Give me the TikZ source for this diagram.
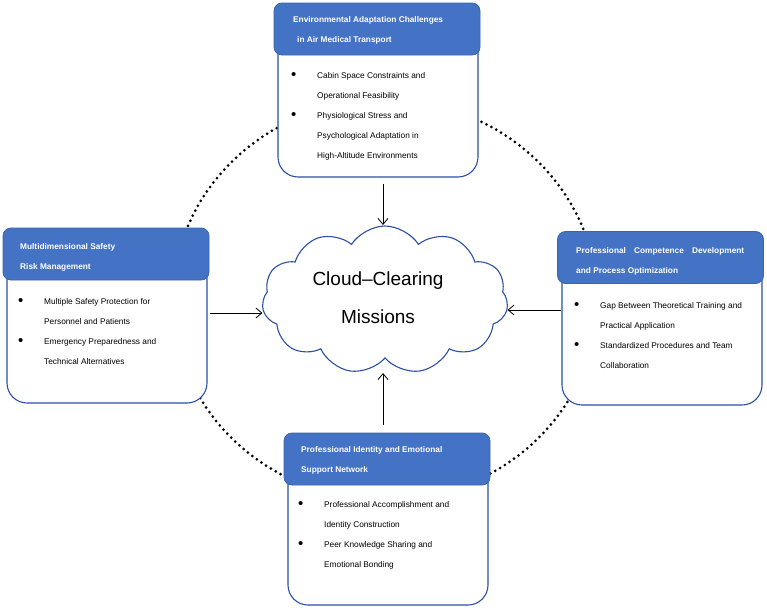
\documentclass[tikz,border=0pt]{standalone}
\usepackage{fontspec}
\setmainfont{Liberation Sans}
\usepackage{tikz}
\usetikzlibrary{shapes.symbols,arrows.meta}

\definecolor{hdblue}{HTML}{4472C4}
\definecolor{hdline}{HTML}{3A64B4}
\definecolor{bdline}{HTML}{2B50A6}

% a bullet row for the lists
\newcommand{\itm}{\makebox[26pt][l]{\raisebox{-1.3pt}{\scalebox{1.8}{\textbullet}}}}

\begin{document}
\begin{tikzpicture}[x=1pt,y=-1pt,
    head/.style={draw=hdline,fill=hdblue,line width=0.8pt,rounded corners=8pt,
        minimum width=206pt,minimum height=52pt,inner sep=0pt},
    body/.style={draw=bdline,fill=white,line width=1.1pt,rounded corners=20pt,
        minimum width=200pt,inner sep=0pt},
    htext/.style={anchor=base west,inner sep=0pt,text=white,
        font=\fontsize{8.3}{20}\selectfont\bfseries,align=left},
    ltext/.style={anchor=base west,inner sep=0pt,
        font=\fontsize{8.3}{20}\selectfont},
    arr/.style={-{Straight Barb[length=6pt,width=10pt]},line width=0.8pt},
    dots/.style={line width=3pt,line cap=round,dash pattern=on 0pt off 5.6pt}]
    \useasboundingbox (0,0) rectangle (767,613);

    % dotted ring behind everything
    \draw[dots] (385,300) ellipse [x radius=212pt,y radius=200pt];

    % the cloud in the middle
    \node[cloud,draw=bdline,fill=white,line width=1.1pt,cloud puffs=11,
        cloud puff arc=115,cloud ignores aspect,
        minimum width=246pt,minimum height=148pt] (cloud) at (385,300) {};
    \node[align=center,font=\fontsize{19}{38}\selectfont] (title) at (378,298)
        {Cloud--Clearing\\Missions};

    % top box
    \node[body,minimum height=148pt] (topb) at (378,103) {};
    \node[head] (toph) at (377,29) {};
    \node[htext] (topht) at (293,42)
        {Environmental Adaptation Challenges\\\hspace{4pt}in Air Medical Transport};
    \node[ltext] (topl) at (291,78) {\begin{tabular}[t]{@{}l@{}l@{}}
        \itm & Cabin Space Constraints and\\
        & Operational Feasibility\\
        \itm & Physiological Stress and\\
        & Psychological Adaptation in\\
        & High-Altitude Environments
        \end{tabular}};

    % left box
    \node[body,minimum height=149pt] (leftb) at (107,328.5) {};
    \node[head] (lefth) at (106,254) {};
    \node[htext] (leftht) at (20,269)
        {Multidimensional Safety\\Risk Management};
    \node[ltext] (leftl) at (18,304) {\begin{tabular}[t]{@{}l@{}l@{}}
        \itm & Multiple Safety Protection for\\
        & Personnel and Patients\\
        \itm & Emergency Preparedness and\\
        & Technical Alternatives
        \end{tabular}};

    % right box
    \node[body,minimum height=148pt] (rightb) at (662,331) {};
    \node[head] (righth) at (660.5,257.5) {};
    \node[htext] (rightht) at (576,273)
        {\makebox[168pt][s]{Professional Competence Development}\\and Process Optimization};
    \node[ltext] (rightl) at (574,308) {\begin{tabular}[t]{@{}l@{}l@{}}
        \itm & Gap Between Theoretical Training and\\
        & Practical Application\\
        \itm & Standardized Procedures and Team\\
        & Collaboration
        \end{tabular}};

    % bottom box
    \node[body,minimum height=146pt] (botb) at (388,532) {};
    \node[head] (both) at (387,459) {};
    \node[htext] (botht) at (301,472)
        {Professional Identity and Emotional\\Support Network};
    \node[ltext] (botl) at (298,507) {\begin{tabular}[t]{@{}l@{}l@{}}
        \itm & Professional Accomplishment and\\
        & Identity Construction\\
        \itm & Peer Knowledge Sharing and\\
        & Emotional Bonding
        \end{tabular}};

    % arrows into the cloud
    \coordinate (tin) at ([xshift=-2pt,yshift=75pt]cloud.center);
    \coordinate (bin) at ([xshift=-2pt,yshift=-73pt]cloud.center);
    \coordinate (lin) at ([yshift=-13pt]cloud.west);
    \coordinate (rin) at ([yshift=-10pt]cloud.east);
    \draw[arr,shorten <=6pt] (topb.south -| tin) -- (tin);
    \draw[arr,shorten <=2pt] (leftb.east |- lin) -- (lin);
    \draw[arr] (rightb.west |- rin) -- (rin);
    \draw[arr,shorten <=8pt] (both.north -| bin) -- (bin);
\end{tikzpicture}
\end{document}
